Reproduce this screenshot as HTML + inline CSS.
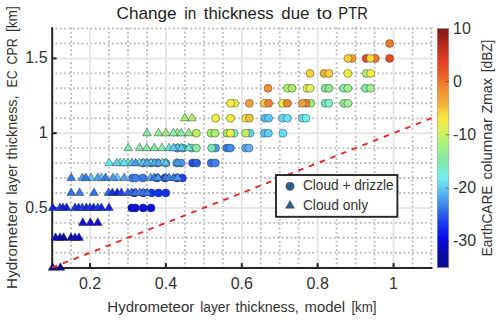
<!DOCTYPE html>
<html><head><meta charset="utf-8"><title>Change in thickness due to PTR</title>
<style>
html,body{margin:0;padding:0;background:#fff;}
body{width:500px;height:321px;overflow:hidden;font-family:"Liberation Sans",sans-serif;}
svg{display:block;}
</style></head><body>
<svg width="500" height="321" viewBox="0 0 500 321">
<defs><linearGradient id="cb" x1="0" y1="0" x2="0" y2="1">
<stop offset="0.0000" stop-color="#7a1a12"/>
<stop offset="0.0606" stop-color="#b02818"/>
<stop offset="0.1233" stop-color="#e03a24"/>
<stop offset="0.1860" stop-color="#e85828"/>
<stop offset="0.2487" stop-color="#f08a30"/>
<stop offset="0.3115" stop-color="#f0b038"/>
<stop offset="0.3742" stop-color="#f8e840"/>
<stop offset="0.4369" stop-color="#d0f060"/>
<stop offset="0.4996" stop-color="#a0f088"/>
<stop offset="0.5623" stop-color="#80e8b0"/>
<stop offset="0.6250" stop-color="#74f0f4"/>
<stop offset="0.6877" stop-color="#58b8f0"/>
<stop offset="0.7504" stop-color="#3a7ae8"/>
<stop offset="0.8131" stop-color="#1a3af0"/>
<stop offset="0.8758" stop-color="#0a0ae8"/>
<stop offset="0.9385" stop-color="#0a0aa8"/>
<stop offset="1.0000" stop-color="#0c0c88"/>
</linearGradient>
<clipPath id="pc"><rect x="46.1" y="22.5" width="391.4" height="251.2"/></clipPath>
</defs>
<rect width="500" height="321" fill="#fff"/>
<line x1="52.10" y1="267.70" x2="52.10" y2="27.50" stroke="#bebebe" stroke-width="1.9" stroke-dasharray="1.9 2.45" stroke-dashoffset="0.95"/>
<line x1="71.07" y1="267.70" x2="71.07" y2="27.50" stroke="#bebebe" stroke-width="1.9" stroke-dasharray="1.9 2.45" stroke-dashoffset="0.95"/>
<line x1="109.01" y1="267.70" x2="109.01" y2="27.50" stroke="#bebebe" stroke-width="1.9" stroke-dasharray="1.9 2.45" stroke-dashoffset="0.95"/>
<line x1="127.98" y1="267.70" x2="127.98" y2="27.50" stroke="#bebebe" stroke-width="1.9" stroke-dasharray="1.9 2.45" stroke-dashoffset="0.95"/>
<line x1="146.95" y1="267.70" x2="146.95" y2="27.50" stroke="#bebebe" stroke-width="1.9" stroke-dasharray="1.9 2.45" stroke-dashoffset="0.95"/>
<line x1="184.89" y1="267.70" x2="184.89" y2="27.50" stroke="#bebebe" stroke-width="1.9" stroke-dasharray="1.9 2.45" stroke-dashoffset="0.95"/>
<line x1="203.86" y1="267.70" x2="203.86" y2="27.50" stroke="#bebebe" stroke-width="1.9" stroke-dasharray="1.9 2.45" stroke-dashoffset="0.95"/>
<line x1="222.83" y1="267.70" x2="222.83" y2="27.50" stroke="#bebebe" stroke-width="1.9" stroke-dasharray="1.9 2.45" stroke-dashoffset="0.95"/>
<line x1="260.77" y1="267.70" x2="260.77" y2="27.50" stroke="#bebebe" stroke-width="1.9" stroke-dasharray="1.9 2.45" stroke-dashoffset="0.95"/>
<line x1="279.74" y1="267.70" x2="279.74" y2="27.50" stroke="#bebebe" stroke-width="1.9" stroke-dasharray="1.9 2.45" stroke-dashoffset="0.95"/>
<line x1="298.71" y1="267.70" x2="298.71" y2="27.50" stroke="#bebebe" stroke-width="1.9" stroke-dasharray="1.9 2.45" stroke-dashoffset="0.95"/>
<line x1="336.65" y1="267.70" x2="336.65" y2="27.50" stroke="#bebebe" stroke-width="1.9" stroke-dasharray="1.9 2.45" stroke-dashoffset="0.95"/>
<line x1="355.62" y1="267.70" x2="355.62" y2="27.50" stroke="#bebebe" stroke-width="1.9" stroke-dasharray="1.9 2.45" stroke-dashoffset="0.95"/>
<line x1="374.59" y1="267.70" x2="374.59" y2="27.50" stroke="#bebebe" stroke-width="1.9" stroke-dasharray="1.9 2.45" stroke-dashoffset="0.95"/>
<line x1="412.53" y1="267.70" x2="412.53" y2="27.50" stroke="#bebebe" stroke-width="1.9" stroke-dasharray="1.9 2.45" stroke-dashoffset="0.95"/>
<line x1="431.50" y1="267.70" x2="431.50" y2="27.50" stroke="#bebebe" stroke-width="1.9" stroke-dasharray="1.9 2.45" stroke-dashoffset="0.95"/>
<line x1="52.10" y1="267.70" x2="431.50" y2="267.70" stroke="#bebebe" stroke-width="1.9" stroke-dasharray="1.9 2.45" stroke-dashoffset="0.95"/>
<line x1="52.10" y1="252.75" x2="431.50" y2="252.75" stroke="#bebebe" stroke-width="1.9" stroke-dasharray="1.9 2.45" stroke-dashoffset="0.95"/>
<line x1="52.10" y1="237.80" x2="431.50" y2="237.80" stroke="#bebebe" stroke-width="1.9" stroke-dasharray="1.9 2.45" stroke-dashoffset="0.95"/>
<line x1="52.10" y1="222.85" x2="431.50" y2="222.85" stroke="#bebebe" stroke-width="1.9" stroke-dasharray="1.9 2.45" stroke-dashoffset="0.95"/>
<line x1="52.10" y1="192.95" x2="431.50" y2="192.95" stroke="#bebebe" stroke-width="1.9" stroke-dasharray="1.9 2.45" stroke-dashoffset="0.95"/>
<line x1="52.10" y1="178.00" x2="431.50" y2="178.00" stroke="#bebebe" stroke-width="1.9" stroke-dasharray="1.9 2.45" stroke-dashoffset="0.95"/>
<line x1="52.10" y1="163.05" x2="431.50" y2="163.05" stroke="#bebebe" stroke-width="1.9" stroke-dasharray="1.9 2.45" stroke-dashoffset="0.95"/>
<line x1="52.10" y1="148.10" x2="431.50" y2="148.10" stroke="#bebebe" stroke-width="1.9" stroke-dasharray="1.9 2.45" stroke-dashoffset="0.95"/>
<line x1="52.10" y1="118.20" x2="431.50" y2="118.20" stroke="#bebebe" stroke-width="1.9" stroke-dasharray="1.9 2.45" stroke-dashoffset="0.95"/>
<line x1="52.10" y1="103.25" x2="431.50" y2="103.25" stroke="#bebebe" stroke-width="1.9" stroke-dasharray="1.9 2.45" stroke-dashoffset="0.95"/>
<line x1="52.10" y1="88.30" x2="431.50" y2="88.30" stroke="#bebebe" stroke-width="1.9" stroke-dasharray="1.9 2.45" stroke-dashoffset="0.95"/>
<line x1="52.10" y1="73.35" x2="431.50" y2="73.35" stroke="#bebebe" stroke-width="1.9" stroke-dasharray="1.9 2.45" stroke-dashoffset="0.95"/>
<line x1="52.10" y1="43.45" x2="431.50" y2="43.45" stroke="#bebebe" stroke-width="1.9" stroke-dasharray="1.9 2.45" stroke-dashoffset="0.95"/>
<line x1="52.10" y1="28.50" x2="431.50" y2="28.50" stroke="#bebebe" stroke-width="1.9" stroke-dasharray="1.9 2.45" stroke-dashoffset="0.95"/>
<line x1="90.04" y1="267.70" x2="90.04" y2="28.50" stroke="#e6e6e6" stroke-width="2"/>
<line x1="165.92" y1="267.70" x2="165.92" y2="28.50" stroke="#e6e6e6" stroke-width="2"/>
<line x1="241.80" y1="267.70" x2="241.80" y2="28.50" stroke="#e6e6e6" stroke-width="2"/>
<line x1="317.68" y1="267.70" x2="317.68" y2="28.50" stroke="#e6e6e6" stroke-width="2"/>
<line x1="393.56" y1="267.70" x2="393.56" y2="28.50" stroke="#e6e6e6" stroke-width="2"/>
<line x1="52.10" y1="207.90" x2="431.50" y2="207.90" stroke="#e6e6e6" stroke-width="2"/>
<line x1="52.10" y1="133.15" x2="431.50" y2="133.15" stroke="#e6e6e6" stroke-width="2"/>
<line x1="52.10" y1="58.40" x2="431.50" y2="58.40" stroke="#e6e6e6" stroke-width="2"/>
<line x1="52.20" y1="27.20" x2="52.20" y2="268.90" stroke="#262626" stroke-width="2"/>
<line x1="51.20" y1="267.90" x2="432.50" y2="267.90" stroke="#262626" stroke-width="2"/>
<line x1="90.04" y1="267.70" x2="90.04" y2="263.10" stroke="#262626" stroke-width="2"/>
<line x1="165.92" y1="267.70" x2="165.92" y2="263.10" stroke="#262626" stroke-width="2"/>
<line x1="241.80" y1="267.70" x2="241.80" y2="263.10" stroke="#262626" stroke-width="2"/>
<line x1="317.68" y1="267.70" x2="317.68" y2="263.10" stroke="#262626" stroke-width="2"/>
<line x1="393.56" y1="267.70" x2="393.56" y2="263.10" stroke="#262626" stroke-width="2"/>
<line x1="52.10" y1="207.90" x2="56.70" y2="207.90" stroke="#262626" stroke-width="2"/>
<line x1="52.10" y1="133.15" x2="56.70" y2="133.15" stroke="#262626" stroke-width="2"/>
<line x1="52.10" y1="58.40" x2="56.70" y2="58.40" stroke="#262626" stroke-width="2"/>
<circle cx="131.8" cy="207.9" r="4.0" fill="#0808d8" stroke="#333" stroke-opacity="0.75" stroke-width="0.6"/>
<circle cx="135.4" cy="207.9" r="4.0" fill="#0810e0" stroke="#333" stroke-opacity="0.75" stroke-width="0.6"/>
<circle cx="143.2" cy="207.9" r="4.0" fill="#0810e0" stroke="#333" stroke-opacity="0.75" stroke-width="0.6"/>
<circle cx="151.0" cy="207.9" r="4.0" fill="#0810e0" stroke="#333" stroke-opacity="0.75" stroke-width="0.6"/>
<circle cx="134.4" cy="192.9" r="4.0" fill="#1030e0" stroke="#333" stroke-opacity="0.75" stroke-width="0.6"/>
<circle cx="143.4" cy="192.9" r="4.0" fill="#1030e0" stroke="#333" stroke-opacity="0.75" stroke-width="0.6"/>
<circle cx="151.6" cy="192.9" r="4.0" fill="#1030f0" stroke="#333" stroke-opacity="0.75" stroke-width="0.6"/>
<circle cx="158.6" cy="192.9" r="4.0" fill="#1030f0" stroke="#333" stroke-opacity="0.75" stroke-width="0.6"/>
<circle cx="165.8" cy="192.9" r="4.0" fill="#1030f0" stroke="#333" stroke-opacity="0.75" stroke-width="0.6"/>
<circle cx="132.6" cy="178.0" r="4.0" fill="#3878e8" stroke="#333" stroke-opacity="0.75" stroke-width="0.6"/>
<circle cx="135.6" cy="178.0" r="4.0" fill="#4080f0" stroke="#333" stroke-opacity="0.75" stroke-width="0.6"/>
<circle cx="142.8" cy="178.0" r="4.0" fill="#3878e8" stroke="#333" stroke-opacity="0.75" stroke-width="0.6"/>
<circle cx="157.0" cy="178.0" r="4.0" fill="#2040d8" stroke="#333" stroke-opacity="0.75" stroke-width="0.6"/>
<circle cx="165.0" cy="178.0" r="4.0" fill="#2040d8" stroke="#333" stroke-opacity="0.75" stroke-width="0.6"/>
<circle cx="177.0" cy="178.0" r="4.0" fill="#2040e0" stroke="#333" stroke-opacity="0.75" stroke-width="0.6"/>
<circle cx="182.4" cy="178.0" r="4.0" fill="#2040f0" stroke="#333" stroke-opacity="0.75" stroke-width="0.6"/>
<circle cx="143.4" cy="163.1" r="4.0" fill="#3a88d8" stroke="#333" stroke-opacity="0.75" stroke-width="0.6"/>
<circle cx="151.0" cy="163.1" r="4.0" fill="#3a88d8" stroke="#333" stroke-opacity="0.75" stroke-width="0.6"/>
<circle cx="157.7" cy="163.1" r="4.0" fill="#3a88d8" stroke="#333" stroke-opacity="0.75" stroke-width="0.6"/>
<circle cx="165.6" cy="163.1" r="4.0" fill="#40a0d8" stroke="#333" stroke-opacity="0.75" stroke-width="0.6"/>
<circle cx="176.8" cy="163.1" r="4.0" fill="#40b0c8" stroke="#333" stroke-opacity="0.75" stroke-width="0.6"/>
<circle cx="181.0" cy="163.1" r="4.0" fill="#4898f0" stroke="#333" stroke-opacity="0.75" stroke-width="0.6"/>
<circle cx="192.6" cy="163.1" r="4.0" fill="#2050e0" stroke="#333" stroke-opacity="0.75" stroke-width="0.6"/>
<circle cx="196.6" cy="163.1" r="4.0" fill="#2860e8" stroke="#333" stroke-opacity="0.75" stroke-width="0.6"/>
<circle cx="211.2" cy="163.1" r="4.0" fill="#3070e0" stroke="#333" stroke-opacity="0.75" stroke-width="0.6"/>
<circle cx="215.4" cy="163.1" r="4.0" fill="#4080f0" stroke="#333" stroke-opacity="0.75" stroke-width="0.6"/>
<circle cx="177.4" cy="148.1" r="4.0" fill="#48b0d0" stroke="#333" stroke-opacity="0.75" stroke-width="0.6"/>
<circle cx="183.0" cy="148.1" r="4.0" fill="#48b0d0" stroke="#333" stroke-opacity="0.75" stroke-width="0.6"/>
<circle cx="191.8" cy="148.1" r="4.0" fill="#60d8f0" stroke="#333" stroke-opacity="0.75" stroke-width="0.6"/>
<circle cx="196.4" cy="148.1" r="4.0" fill="#90e8a0" stroke="#333" stroke-opacity="0.75" stroke-width="0.6"/>
<circle cx="215.6" cy="148.1" r="4.0" fill="#50a0f0" stroke="#333" stroke-opacity="0.75" stroke-width="0.6"/>
<circle cx="211.6" cy="148.1" r="4.0" fill="#70e8b0" stroke="#333" stroke-opacity="0.75" stroke-width="0.6"/>
<circle cx="227.0" cy="148.1" r="4.0" fill="#3080e8" stroke="#333" stroke-opacity="0.75" stroke-width="0.6"/>
<circle cx="230.4" cy="148.1" r="4.0" fill="#4090f0" stroke="#333" stroke-opacity="0.75" stroke-width="0.6"/>
<circle cx="245.6" cy="148.1" r="4.0" fill="#50a8f0" stroke="#333" stroke-opacity="0.75" stroke-width="0.6"/>
<circle cx="249.0" cy="148.1" r="4.0" fill="#60b0f0" stroke="#333" stroke-opacity="0.75" stroke-width="0.6"/>
<circle cx="196.4" cy="133.2" r="4.0" fill="#c0f060" stroke="#333" stroke-opacity="0.75" stroke-width="0.6"/>
<circle cx="211.0" cy="133.2" r="4.0" fill="#a0e870" stroke="#333" stroke-opacity="0.75" stroke-width="0.6"/>
<circle cx="215.0" cy="133.2" r="4.0" fill="#a8f070" stroke="#333" stroke-opacity="0.75" stroke-width="0.6"/>
<circle cx="234.0" cy="133.2" r="4.0" fill="#70f0d0" stroke="#333" stroke-opacity="0.75" stroke-width="0.6"/>
<circle cx="227.0" cy="133.2" r="4.0" fill="#a0e870" stroke="#333" stroke-opacity="0.75" stroke-width="0.6"/>
<circle cx="230.4" cy="133.2" r="4.0" fill="#f0f040" stroke="#333" stroke-opacity="0.75" stroke-width="0.6"/>
<circle cx="250.0" cy="133.2" r="4.0" fill="#60d0f0" stroke="#333" stroke-opacity="0.75" stroke-width="0.6"/>
<circle cx="245.6" cy="133.2" r="4.0" fill="#c0f060" stroke="#333" stroke-opacity="0.75" stroke-width="0.6"/>
<circle cx="264.4" cy="133.2" r="4.0" fill="#50c0f0" stroke="#333" stroke-opacity="0.75" stroke-width="0.6"/>
<circle cx="268.4" cy="133.2" r="4.0" fill="#60d0f0" stroke="#333" stroke-opacity="0.75" stroke-width="0.6"/>
<circle cx="283.0" cy="133.2" r="4.0" fill="#60e0f8" stroke="#333" stroke-opacity="0.75" stroke-width="0.6"/>
<circle cx="215.6" cy="118.2" r="4.0" fill="#f0f040" stroke="#333" stroke-opacity="0.75" stroke-width="0.6"/>
<circle cx="230.6" cy="118.2" r="4.0" fill="#f8f040" stroke="#333" stroke-opacity="0.75" stroke-width="0.6"/>
<circle cx="245.8" cy="118.2" r="4.0" fill="#f8f040" stroke="#333" stroke-opacity="0.75" stroke-width="0.6"/>
<circle cx="249.4" cy="118.2" r="4.0" fill="#f0c040" stroke="#333" stroke-opacity="0.75" stroke-width="0.6"/>
<circle cx="265.0" cy="118.2" r="4.0" fill="#50c0f0" stroke="#333" stroke-opacity="0.75" stroke-width="0.6"/>
<circle cx="268.6" cy="118.2" r="4.0" fill="#58c8f0" stroke="#333" stroke-opacity="0.75" stroke-width="0.6"/>
<circle cx="282.6" cy="118.2" r="4.0" fill="#60d8f0" stroke="#333" stroke-opacity="0.75" stroke-width="0.6"/>
<circle cx="287.4" cy="118.2" r="4.0" fill="#68e0f8" stroke="#333" stroke-opacity="0.75" stroke-width="0.6"/>
<circle cx="302.4" cy="118.2" r="4.0" fill="#60e0f0" stroke="#333" stroke-opacity="0.75" stroke-width="0.6"/>
<circle cx="306.0" cy="118.2" r="4.0" fill="#70f0f0" stroke="#333" stroke-opacity="0.75" stroke-width="0.6"/>
<circle cx="234.6" cy="103.3" r="4.0" fill="#e8f050" stroke="#333" stroke-opacity="0.75" stroke-width="0.6"/>
<circle cx="230.6" cy="103.3" r="4.0" fill="#f8f040" stroke="#333" stroke-opacity="0.75" stroke-width="0.6"/>
<circle cx="249.4" cy="103.3" r="4.0" fill="#f0a038" stroke="#333" stroke-opacity="0.75" stroke-width="0.6"/>
<circle cx="264.4" cy="103.3" r="4.0" fill="#f8d040" stroke="#333" stroke-opacity="0.75" stroke-width="0.6"/>
<circle cx="268.6" cy="103.3" r="4.0" fill="#f08030" stroke="#333" stroke-opacity="0.75" stroke-width="0.6"/>
<circle cx="282.6" cy="103.3" r="4.0" fill="#e0f040" stroke="#333" stroke-opacity="0.75" stroke-width="0.6"/>
<circle cx="287.4" cy="103.3" r="4.0" fill="#f08830" stroke="#333" stroke-opacity="0.75" stroke-width="0.6"/>
<circle cx="310.8" cy="103.3" r="4.0" fill="#a0f070" stroke="#333" stroke-opacity="0.75" stroke-width="0.6"/>
<circle cx="306.0" cy="103.3" r="4.0" fill="#f08030" stroke="#333" stroke-opacity="0.75" stroke-width="0.6"/>
<circle cx="302.4" cy="103.3" r="4.0" fill="#f0a038" stroke="#333" stroke-opacity="0.75" stroke-width="0.6"/>
<circle cx="325.2" cy="103.3" r="4.0" fill="#70e8c0" stroke="#333" stroke-opacity="0.75" stroke-width="0.6"/>
<circle cx="328.8" cy="103.3" r="4.0" fill="#80f0d0" stroke="#333" stroke-opacity="0.75" stroke-width="0.6"/>
<circle cx="344.0" cy="103.3" r="4.0" fill="#90e890" stroke="#333" stroke-opacity="0.75" stroke-width="0.6"/>
<circle cx="348.0" cy="103.3" r="4.0" fill="#a0f0a0" stroke="#333" stroke-opacity="0.75" stroke-width="0.6"/>
<circle cx="268.0" cy="88.3" r="4.0" fill="#f09030" stroke="#333" stroke-opacity="0.75" stroke-width="0.6"/>
<circle cx="287.5" cy="88.3" r="4.0" fill="#b0f060" stroke="#333" stroke-opacity="0.75" stroke-width="0.6"/>
<circle cx="292.0" cy="88.3" r="4.0" fill="#a8e870" stroke="#333" stroke-opacity="0.75" stroke-width="0.6"/>
<circle cx="307.0" cy="88.3" r="4.0" fill="#e0f050" stroke="#333" stroke-opacity="0.75" stroke-width="0.6"/>
<circle cx="310.0" cy="88.3" r="4.0" fill="#e8f060" stroke="#333" stroke-opacity="0.75" stroke-width="0.6"/>
<circle cx="325.2" cy="88.3" r="4.0" fill="#80e8a0" stroke="#333" stroke-opacity="0.75" stroke-width="0.6"/>
<circle cx="329.0" cy="88.3" r="4.0" fill="#90e890" stroke="#333" stroke-opacity="0.75" stroke-width="0.6"/>
<circle cx="343.4" cy="88.3" r="4.0" fill="#80e8b0" stroke="#333" stroke-opacity="0.75" stroke-width="0.6"/>
<circle cx="347.8" cy="88.3" r="4.0" fill="#a0f080" stroke="#333" stroke-opacity="0.75" stroke-width="0.6"/>
<circle cx="365.5" cy="88.3" r="4.0" fill="#80e8b0" stroke="#333" stroke-opacity="0.75" stroke-width="0.6"/>
<circle cx="370.7" cy="88.3" r="4.0" fill="#a0f090" stroke="#333" stroke-opacity="0.75" stroke-width="0.6"/>
<circle cx="310.0" cy="73.4" r="4.0" fill="#f8d040" stroke="#333" stroke-opacity="0.75" stroke-width="0.6"/>
<circle cx="324.0" cy="73.4" r="4.0" fill="#f0b030" stroke="#333" stroke-opacity="0.75" stroke-width="0.6"/>
<circle cx="329.0" cy="73.4" r="4.0" fill="#f8d040" stroke="#333" stroke-opacity="0.75" stroke-width="0.6"/>
<circle cx="347.8" cy="73.4" r="4.0" fill="#f0f040" stroke="#333" stroke-opacity="0.75" stroke-width="0.6"/>
<circle cx="366.3" cy="73.4" r="4.0" fill="#b0f070" stroke="#333" stroke-opacity="0.75" stroke-width="0.6"/>
<circle cx="370.7" cy="73.4" r="4.0" fill="#f8f040" stroke="#333" stroke-opacity="0.75" stroke-width="0.6"/>
<circle cx="352.0" cy="58.4" r="4.0" fill="#f0a030" stroke="#333" stroke-opacity="0.75" stroke-width="0.6"/>
<circle cx="348.0" cy="58.4" r="4.0" fill="#f8c838" stroke="#333" stroke-opacity="0.75" stroke-width="0.6"/>
<circle cx="366.2" cy="58.4" r="4.0" fill="#e04820" stroke="#333" stroke-opacity="0.75" stroke-width="0.6"/>
<circle cx="375.3" cy="58.4" r="4.0" fill="#f07828" stroke="#333" stroke-opacity="0.75" stroke-width="0.6"/>
<circle cx="370.4" cy="58.4" r="4.0" fill="#f8d838" stroke="#333" stroke-opacity="0.75" stroke-width="0.6"/>
<circle cx="389.6" cy="58.4" r="4.0" fill="#e84820" stroke="#333" stroke-opacity="0.75" stroke-width="0.6"/>
<circle cx="389.6" cy="43.5" r="4.0" fill="#f07828" stroke="#333" stroke-opacity="0.75" stroke-width="0.6"/>
<path d="M48.2 270.3L52.6 262.7L57.0 270.3Z" fill="#000080" stroke="#333" stroke-opacity="0.75" stroke-width="0.6" stroke-linejoin="round"/>
<path d="M56.0 270.3L60.4 262.7L64.8 270.3Z" fill="#000080" stroke="#333" stroke-opacity="0.75" stroke-width="0.6" stroke-linejoin="round"/>
<path d="M51.2 240.4L55.6 232.8L60.0 240.4Z" fill="#0c0cc4" stroke="#333" stroke-opacity="0.75" stroke-width="0.6" stroke-linejoin="round"/>
<path d="M55.6 240.4L60.0 232.8L64.4 240.4Z" fill="#0a0ab0" stroke="#333" stroke-opacity="0.75" stroke-width="0.6" stroke-linejoin="round"/>
<path d="M59.2 240.4L63.6 232.8L68.0 240.4Z" fill="#08089c" stroke="#333" stroke-opacity="0.75" stroke-width="0.6" stroke-linejoin="round"/>
<path d="M66.6 240.4L71.0 232.8L75.4 240.4Z" fill="#0808a4" stroke="#333" stroke-opacity="0.75" stroke-width="0.6" stroke-linejoin="round"/>
<path d="M70.6 240.4L75.0 232.8L79.4 240.4Z" fill="#0a0abc" stroke="#333" stroke-opacity="0.75" stroke-width="0.6" stroke-linejoin="round"/>
<path d="M74.6 240.4L79.0 232.8L83.4 240.4Z" fill="#0a0ac4" stroke="#333" stroke-opacity="0.75" stroke-width="0.6" stroke-linejoin="round"/>
<path d="M78.4 225.4L82.8 217.8L87.2 225.4Z" fill="#0c0cd8" stroke="#333" stroke-opacity="0.75" stroke-width="0.6" stroke-linejoin="round"/>
<path d="M86.0 225.4L90.4 217.8L94.8 225.4Z" fill="#0c0cd8" stroke="#333" stroke-opacity="0.75" stroke-width="0.6" stroke-linejoin="round"/>
<path d="M93.4 225.4L97.8 217.8L102.2 225.4Z" fill="#0c0cd8" stroke="#333" stroke-opacity="0.75" stroke-width="0.6" stroke-linejoin="round"/>
<path d="M48.4 210.5L52.8 202.9L57.2 210.5Z" fill="#1020f0" stroke="#333" stroke-opacity="0.75" stroke-width="0.6" stroke-linejoin="round"/>
<path d="M55.6 210.5L60.0 202.9L64.4 210.5Z" fill="#1a34ec" stroke="#333" stroke-opacity="0.75" stroke-width="0.6" stroke-linejoin="round"/>
<path d="M58.6 210.5L63.0 202.9L67.4 210.5Z" fill="#1426e0" stroke="#333" stroke-opacity="0.75" stroke-width="0.6" stroke-linejoin="round"/>
<path d="M62.2 210.5L66.6 202.9L71.0 210.5Z" fill="#1020e0" stroke="#333" stroke-opacity="0.75" stroke-width="0.6" stroke-linejoin="round"/>
<path d="M70.6 210.5L75.0 202.9L79.4 210.5Z" fill="#1a34ec" stroke="#333" stroke-opacity="0.75" stroke-width="0.6" stroke-linejoin="round"/>
<path d="M74.2 210.5L78.6 202.9L83.0 210.5Z" fill="#1426e0" stroke="#333" stroke-opacity="0.75" stroke-width="0.6" stroke-linejoin="round"/>
<path d="M77.8 210.5L82.2 202.9L86.6 210.5Z" fill="#2040f0" stroke="#333" stroke-opacity="0.75" stroke-width="0.6" stroke-linejoin="round"/>
<path d="M82.0 210.5L86.4 202.9L90.8 210.5Z" fill="#1426e0" stroke="#333" stroke-opacity="0.75" stroke-width="0.6" stroke-linejoin="round"/>
<path d="M85.6 210.5L90.0 202.9L94.4 210.5Z" fill="#1a34ec" stroke="#333" stroke-opacity="0.75" stroke-width="0.6" stroke-linejoin="round"/>
<path d="M89.2 210.5L93.6 202.9L98.0 210.5Z" fill="#1020e0" stroke="#333" stroke-opacity="0.75" stroke-width="0.6" stroke-linejoin="round"/>
<path d="M93.4 210.5L97.8 202.9L102.2 210.5Z" fill="#1a34ec" stroke="#333" stroke-opacity="0.75" stroke-width="0.6" stroke-linejoin="round"/>
<path d="M97.0 210.5L101.4 202.9L105.8 210.5Z" fill="#1020e0" stroke="#333" stroke-opacity="0.75" stroke-width="0.6" stroke-linejoin="round"/>
<path d="M104.6 210.5L109.0 202.9L113.4 210.5Z" fill="#1020e8" stroke="#333" stroke-opacity="0.75" stroke-width="0.6" stroke-linejoin="round"/>
<path d="M66.8 195.5L71.2 187.9L75.6 195.5Z" fill="#3070e8" stroke="#333" stroke-opacity="0.75" stroke-width="0.6" stroke-linejoin="round"/>
<path d="M75.2 195.5L79.6 187.9L84.0 195.5Z" fill="#3878e8" stroke="#333" stroke-opacity="0.75" stroke-width="0.6" stroke-linejoin="round"/>
<path d="M89.6 195.5L94.0 187.9L98.4 195.5Z" fill="#3070e8" stroke="#333" stroke-opacity="0.75" stroke-width="0.6" stroke-linejoin="round"/>
<path d="M104.1 195.5L108.5 187.9L112.9 195.5Z" fill="#2860f0" stroke="#333" stroke-opacity="0.75" stroke-width="0.6" stroke-linejoin="round"/>
<path d="M108.0 195.5L112.4 187.9L116.8 195.5Z" fill="#1830e0" stroke="#333" stroke-opacity="0.75" stroke-width="0.6" stroke-linejoin="round"/>
<path d="M112.8 195.5L117.2 187.9L121.6 195.5Z" fill="#1020e0" stroke="#333" stroke-opacity="0.75" stroke-width="0.6" stroke-linejoin="round"/>
<path d="M117.0 195.5L121.4 187.9L125.8 195.5Z" fill="#2040f0" stroke="#333" stroke-opacity="0.75" stroke-width="0.6" stroke-linejoin="round"/>
<path d="M123.4 195.5L127.8 187.9L132.2 195.5Z" fill="#3060f0" stroke="#333" stroke-opacity="0.75" stroke-width="0.6" stroke-linejoin="round"/>
<path d="M127.0 195.5L131.4 187.9L135.8 195.5Z" fill="#3060f0" stroke="#333" stroke-opacity="0.75" stroke-width="0.6" stroke-linejoin="round"/>
<path d="M131.2 195.5L135.6 187.9L140.0 195.5Z" fill="#3878f0" stroke="#333" stroke-opacity="0.75" stroke-width="0.6" stroke-linejoin="round"/>
<path d="M135.4 195.5L139.8 187.9L144.2 195.5Z" fill="#4080f0" stroke="#333" stroke-opacity="0.75" stroke-width="0.6" stroke-linejoin="round"/>
<path d="M139.0 195.5L143.4 187.9L147.8 195.5Z" fill="#3878f0" stroke="#333" stroke-opacity="0.75" stroke-width="0.6" stroke-linejoin="round"/>
<path d="M142.8 195.5L147.2 187.9L151.6 195.5Z" fill="#3878f0" stroke="#333" stroke-opacity="0.75" stroke-width="0.6" stroke-linejoin="round"/>
<path d="M86.6 180.6L91.0 173.0L95.4 180.6Z" fill="#58c8f0" stroke="#333" stroke-opacity="0.75" stroke-width="0.6" stroke-linejoin="round"/>
<path d="M97.0 180.6L101.4 173.0L105.8 180.6Z" fill="#60d0f0" stroke="#333" stroke-opacity="0.75" stroke-width="0.6" stroke-linejoin="round"/>
<path d="M112.8 180.6L117.2 173.0L121.6 180.6Z" fill="#60c8f0" stroke="#333" stroke-opacity="0.75" stroke-width="0.6" stroke-linejoin="round"/>
<path d="M66.8 180.6L71.2 173.0L75.6 180.6Z" fill="#3878e8" stroke="#333" stroke-opacity="0.75" stroke-width="0.6" stroke-linejoin="round"/>
<path d="M78.0 180.6L82.4 173.0L86.8 180.6Z" fill="#50a0f0" stroke="#333" stroke-opacity="0.75" stroke-width="0.6" stroke-linejoin="round"/>
<path d="M81.5 180.6L85.9 173.0L90.3 180.6Z" fill="#3878e8" stroke="#333" stroke-opacity="0.75" stroke-width="0.6" stroke-linejoin="round"/>
<path d="M93.4 180.6L97.8 173.0L102.2 180.6Z" fill="#50a0f0" stroke="#333" stroke-opacity="0.75" stroke-width="0.6" stroke-linejoin="round"/>
<path d="M101.1 180.6L105.5 173.0L109.9 180.6Z" fill="#3878e8" stroke="#333" stroke-opacity="0.75" stroke-width="0.6" stroke-linejoin="round"/>
<path d="M108.6 180.6L113.0 173.0L117.4 180.6Z" fill="#4898f0" stroke="#333" stroke-opacity="0.75" stroke-width="0.6" stroke-linejoin="round"/>
<path d="M119.9 180.6L124.3 173.0L128.7 180.6Z" fill="#50a0f0" stroke="#333" stroke-opacity="0.75" stroke-width="0.6" stroke-linejoin="round"/>
<path d="M146.2 180.6L150.6 173.0L155.0 180.6Z" fill="#50a8f0" stroke="#333" stroke-opacity="0.75" stroke-width="0.6" stroke-linejoin="round"/>
<path d="M149.6 180.6L154.0 173.0L158.4 180.6Z" fill="#3878e8" stroke="#333" stroke-opacity="0.75" stroke-width="0.6" stroke-linejoin="round"/>
<path d="M153.6 180.6L158.0 173.0L162.4 180.6Z" fill="#4898f0" stroke="#333" stroke-opacity="0.75" stroke-width="0.6" stroke-linejoin="round"/>
<path d="M161.2 180.6L165.6 173.0L170.0 180.6Z" fill="#3878e8" stroke="#333" stroke-opacity="0.75" stroke-width="0.6" stroke-linejoin="round"/>
<path d="M164.8 180.6L169.2 173.0L173.6 180.6Z" fill="#4080f0" stroke="#333" stroke-opacity="0.75" stroke-width="0.6" stroke-linejoin="round"/>
<path d="M169.0 180.6L173.4 173.0L177.8 180.6Z" fill="#3878e8" stroke="#333" stroke-opacity="0.75" stroke-width="0.6" stroke-linejoin="round"/>
<path d="M173.2 180.6L177.6 173.0L182.0 180.6Z" fill="#4898f0" stroke="#333" stroke-opacity="0.75" stroke-width="0.6" stroke-linejoin="round"/>
<path d="M115.9 165.7L120.3 158.1L124.7 165.7Z" fill="#70f0d0" stroke="#333" stroke-opacity="0.75" stroke-width="0.6" stroke-linejoin="round"/>
<path d="M123.4 165.7L127.8 158.1L132.2 165.7Z" fill="#70f0c8" stroke="#333" stroke-opacity="0.75" stroke-width="0.6" stroke-linejoin="round"/>
<path d="M135.0 165.7L139.4 158.1L143.8 165.7Z" fill="#70e8c0" stroke="#333" stroke-opacity="0.75" stroke-width="0.6" stroke-linejoin="round"/>
<path d="M146.5 165.7L150.9 158.1L155.3 165.7Z" fill="#60e0f0" stroke="#333" stroke-opacity="0.75" stroke-width="0.6" stroke-linejoin="round"/>
<path d="M158.0 165.7L162.4 158.1L166.8 165.7Z" fill="#70e8f0" stroke="#333" stroke-opacity="0.75" stroke-width="0.6" stroke-linejoin="round"/>
<path d="M104.7 165.7L109.1 158.1L113.5 165.7Z" fill="#60e8f0" stroke="#333" stroke-opacity="0.75" stroke-width="0.6" stroke-linejoin="round"/>
<path d="M112.5 165.7L116.9 158.1L121.3 165.7Z" fill="#60d0f0" stroke="#333" stroke-opacity="0.75" stroke-width="0.6" stroke-linejoin="round"/>
<path d="M119.7 165.7L124.1 158.1L128.5 165.7Z" fill="#60e8f8" stroke="#333" stroke-opacity="0.75" stroke-width="0.6" stroke-linejoin="round"/>
<path d="M127.5 165.7L131.9 158.1L136.3 165.7Z" fill="#58c0f0" stroke="#333" stroke-opacity="0.75" stroke-width="0.6" stroke-linejoin="round"/>
<path d="M131.2 165.7L135.6 158.1L140.0 165.7Z" fill="#4898f0" stroke="#333" stroke-opacity="0.75" stroke-width="0.6" stroke-linejoin="round"/>
<path d="M139.0 165.7L143.4 158.1L147.8 165.7Z" fill="#60c8f0" stroke="#333" stroke-opacity="0.75" stroke-width="0.6" stroke-linejoin="round"/>
<path d="M142.6 165.7L147.0 158.1L151.4 165.7Z" fill="#50a8f0" stroke="#333" stroke-opacity="0.75" stroke-width="0.6" stroke-linejoin="round"/>
<path d="M150.1 165.7L154.5 158.1L158.9 165.7Z" fill="#50b0f0" stroke="#333" stroke-opacity="0.75" stroke-width="0.6" stroke-linejoin="round"/>
<path d="M154.1 165.7L158.5 158.1L162.9 165.7Z" fill="#50a8f0" stroke="#333" stroke-opacity="0.75" stroke-width="0.6" stroke-linejoin="round"/>
<path d="M161.3 165.7L165.7 158.1L170.1 165.7Z" fill="#60c0f0" stroke="#333" stroke-opacity="0.75" stroke-width="0.6" stroke-linejoin="round"/>
<path d="M173.0 165.7L177.4 158.1L181.8 165.7Z" fill="#4898e8" stroke="#333" stroke-opacity="0.75" stroke-width="0.6" stroke-linejoin="round"/>
<path d="M123.8 150.7L128.2 143.1L132.6 150.7Z" fill="#80e8b8" stroke="#333" stroke-opacity="0.75" stroke-width="0.6" stroke-linejoin="round"/>
<path d="M135.2 150.7L139.6 143.1L144.0 150.7Z" fill="#80e8a8" stroke="#333" stroke-opacity="0.75" stroke-width="0.6" stroke-linejoin="round"/>
<path d="M142.4 150.7L146.8 143.1L151.2 150.7Z" fill="#80e8a0" stroke="#333" stroke-opacity="0.75" stroke-width="0.6" stroke-linejoin="round"/>
<path d="M150.0 150.7L154.4 143.1L158.8 150.7Z" fill="#80e8a8" stroke="#333" stroke-opacity="0.75" stroke-width="0.6" stroke-linejoin="round"/>
<path d="M157.6 150.7L162.0 143.1L166.4 150.7Z" fill="#88e8a8" stroke="#333" stroke-opacity="0.75" stroke-width="0.6" stroke-linejoin="round"/>
<path d="M164.6 150.7L169.0 143.1L173.4 150.7Z" fill="#60e0e0" stroke="#333" stroke-opacity="0.75" stroke-width="0.6" stroke-linejoin="round"/>
<path d="M173.2 150.7L177.6 143.1L182.0 150.7Z" fill="#60d0e0" stroke="#333" stroke-opacity="0.75" stroke-width="0.6" stroke-linejoin="round"/>
<path d="M169.1 150.7L173.5 143.1L177.9 150.7Z" fill="#58c8f0" stroke="#333" stroke-opacity="0.75" stroke-width="0.6" stroke-linejoin="round"/>
<path d="M177.2 150.7L181.6 143.1L186.0 150.7Z" fill="#60d0f0" stroke="#333" stroke-opacity="0.75" stroke-width="0.6" stroke-linejoin="round"/>
<path d="M184.4 150.7L188.8 143.1L193.2 150.7Z" fill="#70e8c8" stroke="#333" stroke-opacity="0.75" stroke-width="0.6" stroke-linejoin="round"/>
<path d="M142.6 135.8L147.0 128.2L151.4 135.8Z" fill="#80e8a0" stroke="#333" stroke-opacity="0.75" stroke-width="0.6" stroke-linejoin="round"/>
<path d="M154.0 135.8L158.4 128.2L162.8 135.8Z" fill="#90e890" stroke="#333" stroke-opacity="0.75" stroke-width="0.6" stroke-linejoin="round"/>
<path d="M161.6 135.8L166.0 128.2L170.4 135.8Z" fill="#a0e880" stroke="#333" stroke-opacity="0.75" stroke-width="0.6" stroke-linejoin="round"/>
<path d="M172.9 135.8L177.3 128.2L181.7 135.8Z" fill="#b0f070" stroke="#333" stroke-opacity="0.75" stroke-width="0.6" stroke-linejoin="round"/>
<path d="M169.0 135.8L173.4 128.2L177.8 135.8Z" fill="#80f0b0" stroke="#333" stroke-opacity="0.75" stroke-width="0.6" stroke-linejoin="round"/>
<path d="M176.8 135.8L181.2 128.2L185.6 135.8Z" fill="#80f0b0" stroke="#333" stroke-opacity="0.75" stroke-width="0.6" stroke-linejoin="round"/>
<path d="M184.4 135.8L188.8 128.2L193.2 135.8Z" fill="#90e890" stroke="#333" stroke-opacity="0.75" stroke-width="0.6" stroke-linejoin="round"/>
<path d="M180.4 120.8L184.8 113.2L189.2 120.8Z" fill="#a0e870" stroke="#333" stroke-opacity="0.75" stroke-width="0.6" stroke-linejoin="round"/>
<path d="M187.6 120.8L192.0 113.2L196.4 120.8Z" fill="#a8f070" stroke="#333" stroke-opacity="0.75" stroke-width="0.6" stroke-linejoin="round"/>
<line x1="52.10" y1="267.70" x2="431.50" y2="118.20" stroke="#e62a26" stroke-width="1.9" stroke-dasharray="5.6 5.9"/>
<rect x="437.2" y="28.50" width="11.60" height="239.20" fill="url(#cb)" stroke="#9a9a9a" stroke-width="0.6"/>
<line x1="445.80" y1="241.12" x2="448.80" y2="241.12" stroke="#333" stroke-opacity="0.7" stroke-width="0.8"/>
<line x1="445.80" y1="187.97" x2="448.80" y2="187.97" stroke="#333" stroke-opacity="0.7" stroke-width="0.8"/>
<line x1="445.80" y1="134.81" x2="448.80" y2="134.81" stroke="#333" stroke-opacity="0.7" stroke-width="0.8"/>
<line x1="445.80" y1="81.66" x2="448.80" y2="81.66" stroke="#333" stroke-opacity="0.7" stroke-width="0.8"/>
<rect x="276" y="175" width="121.4" height="41.8" fill="#fff" stroke="#262626" stroke-width="1.9"/>
<circle cx="290" cy="186.3" r="4.1" fill="#2e5e8e" stroke="#333" stroke-opacity="0.75" stroke-width="0.6"/>
<path d="M285.6 208.2L290.0 200.6L294.4 208.2Z" fill="#2e5e8e" stroke="#333" stroke-opacity="0.75" stroke-width="0.6"/>
<text x="302.9" y="190.4" font-family="Liberation Sans, sans-serif" font-size="14" fill="#333333" textLength="90.8" lengthAdjust="spacingAndGlyphs">Cloud + drizzle</text>
<text x="302.9" y="209.5" font-family="Liberation Sans, sans-serif" font-size="14" fill="#333333" textLength="65.2" lengthAdjust="spacingAndGlyphs">Cloud only</text>
<text x="90.04" y="289.3" font-family="Liberation Sans, sans-serif" font-size="16" fill="#333333" text-anchor="middle">0.2</text>
<text x="165.92" y="289.3" font-family="Liberation Sans, sans-serif" font-size="16" fill="#333333" text-anchor="middle">0.4</text>
<text x="241.80" y="289.3" font-family="Liberation Sans, sans-serif" font-size="16" fill="#333333" text-anchor="middle">0.6</text>
<text x="317.68" y="289.3" font-family="Liberation Sans, sans-serif" font-size="16" fill="#333333" text-anchor="middle">0.8</text>
<text x="393.56" y="289.3" font-family="Liberation Sans, sans-serif" font-size="16" fill="#333333" text-anchor="middle">1</text>
<text x="47.6" y="212.90" font-family="Liberation Sans, sans-serif" font-size="16" fill="#333333" text-anchor="end">0.5</text>
<text x="47.6" y="138.15" font-family="Liberation Sans, sans-serif" font-size="16" fill="#333333" text-anchor="end">1</text>
<text x="47.6" y="63.40" font-family="Liberation Sans, sans-serif" font-size="16" fill="#333333" text-anchor="end">1.5</text>
<text x="453.0" y="33.80" font-family="Liberation Sans, sans-serif" font-size="16" fill="#333333">10</text>
<text x="453.0" y="86.96" font-family="Liberation Sans, sans-serif" font-size="16" fill="#333333">0</text>
<text x="453.0" y="140.11" font-family="Liberation Sans, sans-serif" font-size="16" fill="#333333">-10</text>
<text x="453.0" y="193.27" font-family="Liberation Sans, sans-serif" font-size="16" fill="#333333">-20</text>
<text x="453.0" y="246.42" font-family="Liberation Sans, sans-serif" font-size="16" fill="#333333">-30</text>
<text x="116.60" y="18.80" font-family="Liberation Sans, sans-serif" font-size="17" fill="#222222" textLength="59.97" lengthAdjust="spacingAndGlyphs">Change</text>
<text x="184.30" y="18.80" font-family="Liberation Sans, sans-serif" font-size="17" fill="#222222" textLength="11.97" lengthAdjust="spacingAndGlyphs">in</text>
<text x="203.80" y="18.80" font-family="Liberation Sans, sans-serif" font-size="17" fill="#222222" textLength="69.88" lengthAdjust="spacingAndGlyphs">thickness</text>
<text x="281.30" y="18.80" font-family="Liberation Sans, sans-serif" font-size="17" fill="#222222" textLength="28.08" lengthAdjust="spacingAndGlyphs">due</text>
<text x="316.60" y="18.80" font-family="Liberation Sans, sans-serif" font-size="17" fill="#222222" textLength="15.48" lengthAdjust="spacingAndGlyphs">to</text>
<text x="338.30" y="18.80" font-family="Liberation Sans, sans-serif" font-size="17" fill="#222222" textLength="29.50" lengthAdjust="spacingAndGlyphs">PTR</text>
<text x="107.30" y="311.60" font-family="Liberation Sans, sans-serif" font-size="14" fill="#333333" textLength="87.00" lengthAdjust="spacingAndGlyphs">Hydrometeor</text>
<text x="200.20" y="311.60" font-family="Liberation Sans, sans-serif" font-size="14" fill="#333333" textLength="29.87" lengthAdjust="spacingAndGlyphs">layer</text>
<text x="235.50" y="311.60" font-family="Liberation Sans, sans-serif" font-size="14" fill="#333333" textLength="63.22" lengthAdjust="spacingAndGlyphs">thickness,</text>
<text x="304.50" y="311.60" font-family="Liberation Sans, sans-serif" font-size="14" fill="#333333" textLength="40.48" lengthAdjust="spacingAndGlyphs">model</text>
<text x="351.40" y="311.60" font-family="Liberation Sans, sans-serif" font-size="14" fill="#333333" textLength="25.08" lengthAdjust="spacingAndGlyphs">[km]</text>
<text transform="translate(16.50 0) rotate(-90)" x="-288.90" y="0" font-family="Liberation Sans, sans-serif" font-size="14" fill="#333333" textLength="88.40" lengthAdjust="spacingAndGlyphs">Hydrometeor</text>
<text transform="translate(16.50 0) rotate(-90)" x="-194.80" y="0" font-family="Liberation Sans, sans-serif" font-size="14" fill="#333333" textLength="30.47" lengthAdjust="spacingAndGlyphs">layer</text>
<text transform="translate(16.50 0) rotate(-90)" x="-159.40" y="0" font-family="Liberation Sans, sans-serif" font-size="14" fill="#333333" textLength="63.92" lengthAdjust="spacingAndGlyphs">thickness,</text>
<text transform="translate(16.50 0) rotate(-90)" x="-87.50" y="0" font-family="Liberation Sans, sans-serif" font-size="14" fill="#333333" textLength="16.99" lengthAdjust="spacingAndGlyphs">EC</text>
<text transform="translate(16.50 0) rotate(-90)" x="-64.40" y="0" font-family="Liberation Sans, sans-serif" font-size="14" fill="#333333" textLength="26.22" lengthAdjust="spacingAndGlyphs">CPR</text>
<text transform="translate(16.50 0) rotate(-90)" x="-32.10" y="0" font-family="Liberation Sans, sans-serif" font-size="14" fill="#333333" textLength="25.88" lengthAdjust="spacingAndGlyphs">[km]</text>
<text transform="translate(492.00 0) rotate(-90)" x="-256.40" y="0" font-family="Liberation Sans, sans-serif" font-size="14" fill="#333333" textLength="70.88" lengthAdjust="spacingAndGlyphs">EarthCARE</text>
<text transform="translate(492.00 0) rotate(-90)" x="-179.50" y="0" font-family="Liberation Sans, sans-serif" font-size="14" fill="#333333" textLength="61.37" lengthAdjust="spacingAndGlyphs">columnar</text>
<text transform="translate(492.00 0) rotate(-90)" x="-113.60" y="0" font-family="Liberation Sans, sans-serif" font-size="14" fill="#333333" textLength="35.40" lengthAdjust="spacingAndGlyphs">Zmax</text>
<text transform="translate(492.00 0) rotate(-90)" x="-72.20" y="0" font-family="Liberation Sans, sans-serif" font-size="14" fill="#333333" textLength="32.60" lengthAdjust="spacingAndGlyphs">[dBZ]</text>
</svg>
</body></html>
